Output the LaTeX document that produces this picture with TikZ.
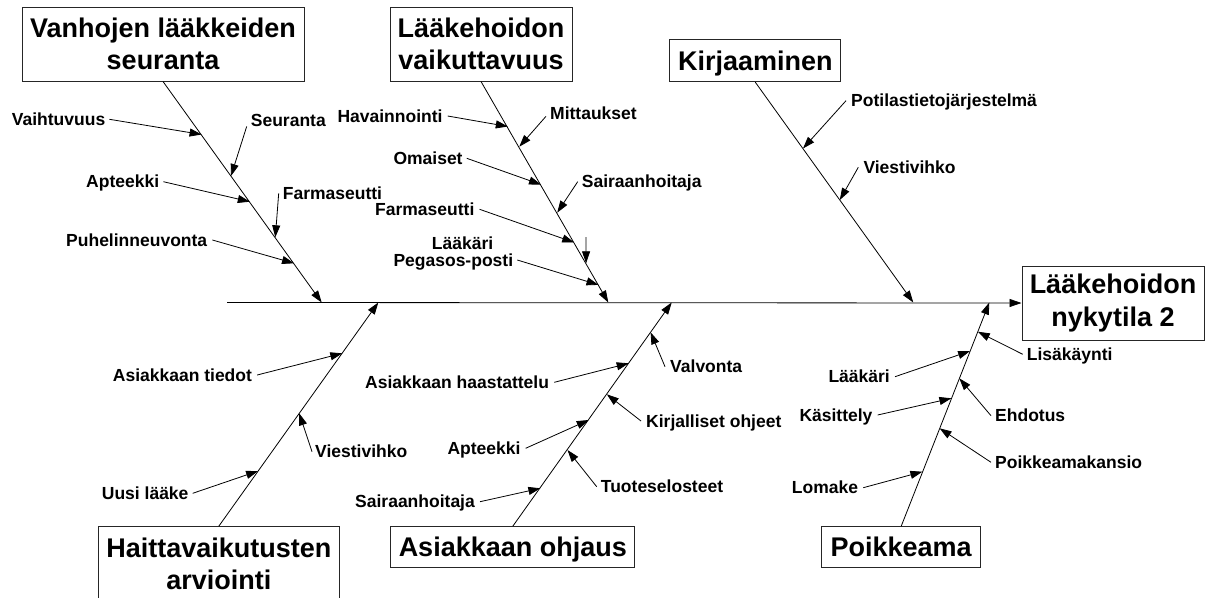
\documentclass[tikz,border=0pt]{standalone}
\usepackage{fontspec}
\setmainfont{Liberation Sans}
\usetikzlibrary{arrows.meta,calc}
\begin{document}
\begin{tikzpicture}[x=1pt,y=-1pt,
  lab/.style={anchor=west,inner sep=0pt,font=\fontsize{17.5}{21}\selectfont\bfseries,text height=12.5pt,text depth=0pt},
  head/.style={draw=black!85,line width=1pt,inner sep=0pt,align=center,font=\fontsize{27}{32.5}\selectfont\bfseries},
  arr/.style={line width=0.8pt,-{Triangle[length=12pt,width=8pt]}},
  bone/.style={line width=0.8pt,-{Triangle[length=12pt,width=8pt]}}]
\useasboundingbox (0,0) rectangle (1210,597);
\clip (0,0) rectangle (1210,597);

% category boxes
\node[head,minimum width=282pt,minimum height=74pt] (B1) at (163,44) {Vanhojen lääkkeiden\\seuranta};
\node[head,minimum width=182pt,minimum height=74pt] (B2) at (481,44) {Lääkehoidon\\vaikuttavuus};
\node[head,minimum width=170.7pt,minimum height=42.4pt,text depth=0pt] (B3) at (755.3,60.5) {Kirjaaminen};
\node[head,minimum width=182pt,minimum height=74pt] (B4) at (1113,303) {Lääkehoidon\\nykytila 2};
\node[head,minimum width=241pt,minimum height=74pt] (B5) at (218.8,563.7) {Haittavaikutusten\\arviointi};
\node[head,minimum width=244.3pt,minimum height=41pt,text depth=0pt] (B6) at (512.8,547.2) {Asiakkaan ohjaus};
\node[head,minimum width=159pt,minimum height=41pt,text depth=0pt] (B7) at (901.2,547.2) {Poikkeama};

% spine
\coordinate (S0) at (227,302.5);
\draw[bone] (S0) -- (B4.west);

% bone tips on spine
\coordinate (b1) at (321.7,302.5);
\coordinate (b2) at (608.3,302.5);
\coordinate (b3) at (913.3,302.5);
\coordinate (b5) at (378.3,302.5);
\coordinate (b6) at (671.7,302.5);
\coordinate (b7) at (989.3,302.5);
\draw[bone] (B1.south) -- (b1);
\draw[bone] (B2.south) -- (b2);
\draw[bone] (B3.south) -- (b3);
\draw[bone] (B5.north) -- (b5);
\draw[bone] (B6.north) -- (b6);
\draw[bone] (B7.north) -- (b7);

% labels
\node[lab] (L1) at (11.7,119.3) {Vaihtuvuus};
\node[lab] (L2) at (250.7,120) {Seuranta};
\node[lab] (L3) at (86,181.7) {Apteekki};
\node[lab] (L4) at (282.7,193.3) {Farmaseutti};
\node[lab] (L5) at (66,240) {Puhelinneuvonta};
\node[lab] (L6) at (337.3,116) {Havainnointi};
\node[lab] (L7) at (550,113.3) {Mittaukset};
\node[lab] (L8) at (393.3,158.3) {Omaiset};
\node[lab] (L9) at (581.7,181.7) {Sairaanhoitaja};
\node[lab] (L10) at (375,209.3) {Farmaseutti};
\node[lab] (L11) at (431.7,243.3) {Lääkäri};
\node[lab] (L12) at (393.3,260) {Pegasos-posti};
\node[lab] (L13) at (851,100.7) {Potilastietojärjestelmä};
\node[lab] (L14) at (863.3,167.3) {Viestivihko};
\node[lab] (L15) at (112.7,375) {Asiakkaan tiedot};
\node[lab] (L16) at (315,451.7) {Viestivihko};
\node[lab] (L17) at (101.7,493.3) {Uusi lääke};
\node[lab] (L18) at (670,366.7) {Valvonta};
\node[lab] (L19) at (365,382.3) {Asiakkaan haastattelu};
\node[lab] (L20) at (646,421) {Kirjalliset ohjeet};
\node[lab] (L21) at (447.3,448.3) {Apteekki};
\node[lab] (L22) at (600.7,486.7) {Tuoteselosteet};
\node[lab] (L23) at (355,501.7) {Sairaanhoitaja};
\node[lab] (L24) at (1026.7,354.3) {Lisäkäynti};
\node[lab] (L25) at (828.3,376.7) {Lääkäri};
\node[lab] (L26) at (995,415.7) {Ehdotus};
\node[lab] (L27) at (799.3,415) {Käsittely};
\node[lab] (L28) at (995,462.3) {Poikkeamakansio};
\node[lab] (L29) at (791.7,487.7) {Lomake};

% arrow tips on the bones
\coordinate (t1) at (201.6,134.5);
\coordinate (t2) at (231,176);
\coordinate (t3) at (249.8,201.7);
\coordinate (t4) at (275.3,237.3);
\coordinate (t5) at (294,263.3);
\coordinate (t6) at (507.8,126.5);
\coordinate (t7) at (519.3,146.7);
\coordinate (t8) at (541,184.6);
\coordinate (t9) at (557.2,212.7);
\coordinate (t10) at (574.2,242.5);
\coordinate (t11s) at (586,237);
\coordinate (t11) at (586.1,263.3);
\coordinate (t12) at (598.5,284.9);
\coordinate (t13) at (803,148.5);
\coordinate (t14) at (839.8,200);
\coordinate (t15) at (342.3,353.3);
\coordinate (t16) at (299.2,413.3);
\coordinate (t17) at (258.1,471);
\coordinate (t18) at (650.6,332.3);
\coordinate (t19) at (628.7,363.3);
\coordinate (t20) at (606.8,394.3);
\coordinate (t21) at (588.7,420);
\coordinate (t22) at (567.5,450);
\coordinate (t23) at (540.4,488.3);
\coordinate (t24) at (977.8,331.7);
\coordinate (t25) at (970.1,351);
\coordinate (t26) at (959.3,378.3);
\coordinate (t27) at (951.4,398.3);
\coordinate (t28) at (939.6,428.3);
\coordinate (t29) at (922.4,471.7);

% arrows
\draw[arr] ([xshift=4pt]L1.east) -- (t1);
\draw[arr] ([xshift=-4pt]L2.south west) -- (t2);
\draw[arr] ([xshift=4pt]L3.east) -- (t3);
\draw[arr] ([xshift=-4pt]L4.west) -- (t4);
\draw[arr] ([xshift=5pt]L5.east) -- (t5);
\draw[arr] ([xshift=5pt]L6.east) -- (t6);
\draw[arr] ([xshift=-4pt,yshift=-3pt]L7.west) -- (t7);
\draw[arr] ([xshift=4pt]L8.east) -- (t8);
\draw[arr] ([xshift=-4pt]L9.west) -- (t9);
\draw[arr] ([xshift=5pt]L10.east) -- (t10);
\draw[arr] (t11s) -- (t11);
\draw[arr] ([xshift=4pt]L12.east) -- (t12);
\draw[arr] ([xshift=-5pt]L13.west) -- (t13);
\draw[arr] ([xshift=-5pt]L14.west) -- (t14);
\draw[arr] ([xshift=5pt]L15.east) -- (t15);
\draw[arr] ([xshift=-3pt]L16.west) -- (t16);
\draw[arr] ([xshift=4pt]L17.east) -- (t17);
\draw[arr] ([xshift=-5pt]L18.west) -- (t18);
\draw[arr] ([xshift=5pt]L19.east) -- (t19);
\draw[arr] ([xshift=-5pt]L20.west) -- (t20);
\draw[arr] ([xshift=5pt]L21.east) -- (t21);
\draw[arr] ([xshift=-4pt]L22.west) -- (t22);
\draw[arr] ([xshift=5pt]L23.east) -- (t23);
\draw[arr] ([xshift=-4pt]L24.west) -- (t24);
\draw[arr] ([xshift=5pt]L25.east) -- (t25);
\draw[arr] ([xshift=-4pt]L26.west) -- (t26);
\draw[arr] ([xshift=5pt]L27.east) -- (t27);
\draw[arr] ([xshift=-4pt]L28.west) -- (t28);
\draw[arr] ([xshift=5pt]L29.east) -- (t29);
\end{tikzpicture}
\end{document}
